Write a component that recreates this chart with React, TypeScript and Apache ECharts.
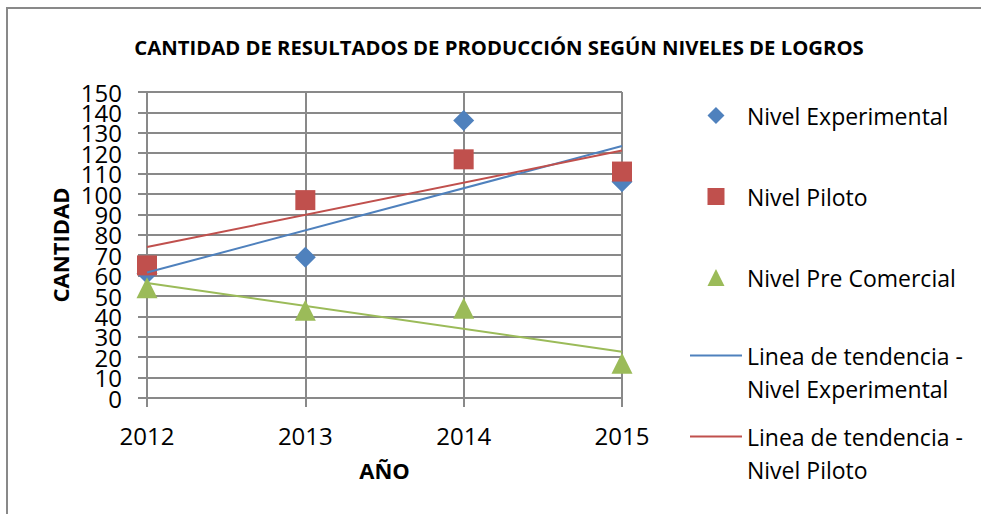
import React, { useEffect, useRef } from "react";
import * as echarts from "echarts";

const years = [2012, 2013, 2014, 2015];
const experimental = [61, 69, 136, 106];
const piloto = [65, 97, 117, 111];
const preComercial = [54, 43, 44, 17];
const trendYears = [2012, 2015];
const trendExperimental = [61.5, 123.5];
const trendPiloto = [74, 121.3];
const trendPreComercial = [56.4, 22.7];
const yLabelsEven = [0, 20, 40, 60, 80, 100, 120, 140];
const yLabelsOdd = [10, 30, 50, 70, 90, 110, 130, 150];

const NAME_EXP = "Nivel Experimental";
const NAME_PIL = "Nivel Piloto";
const NAME_PRE = "Nivel Pre Comercial";
const NAME_T_EXP = "Linea de tendencia -\nNivel Experimental";
const NAME_T_PIL = "Linea de tendencia -\nNivel Piloto";
const NAME_T_PRE = "Linea de tendencia -\nNivel Pre Comercial";

const BLUE = "#4F81BD";
const RED = "#C0504D";
const GREEN = "#9BBB59";
const GRID = "#898989";
const FONT = "Open Sans";
// invisible corner dots keep each icon's box at 52 x 17 (or 52 x 66)
const BOX17 = " M0,0h0.01v0.01h-0.01Z M52,17h0.01v0.01h-0.01Z";
const DIAMOND_ICON = "path://M26,0L34.5,8.5L26,17L17.5,8.5Z" + BOX17;
const RECT_ICON = "path://M17.5,0H34.5V17H17.5Z" + BOX17;
const TRIANGLE_ICON = "path://M26,0L34.5,17H17.5Z" + BOX17;
const LINE_ICON =
  "path://M0,15.5H52V17.5H0Z M0,0h0.01v0.01h-0.01Z M52,66h0.01v0.01h-0.01Z";

const pairs = (xs: number[], ys: number[]) => xs.map((x, i) => [x, ys[i]]);

export default function App() {
  const ref = useRef<HTMLDivElement>(null);
  useEffect(() => {
    if (!ref.current) return;
    const chart = echarts.init(ref.current, null, { renderer: "svg" });
    const legendText = { fontFamily: FONT, fontSize: 23, lineHeight: 33, color: "#000" };
    const yLabelStyle = { fontFamily: FONT, fontSize: 24, color: "#000", margin: 25 };
    const nameStyle = { fontFamily: FONT, fontSize: 22, fontWeight: "bold", color: "#000" };
    chart.setOption({
      animation: false,
      backgroundColor: "#fff",
      textStyle: { fontFamily: FONT },
      title: {
        text: "CANTIDAD DE RESULTADOS DE PRODUCCIÓN SEGÚN NIVELES DE LOGROS",
        left: 494,
        textAlign: "center",
        top: 32,
        textStyle: { fontFamily: FONT, fontSize: 20.3, fontWeight: "bold", color: "#000" },
      },
      graphic: [
        {
          type: "rect",
          z: -10,
          shape: { x: 7, y: 8, width: 1100, height: 700 },
          style: { fill: "none", stroke: GRID, lineWidth: 2 },
        },
      ],
      grid: { left: 147, top: 92, width: 475, height: 306, containLabel: false },
      xAxis: {
        type: "value",
        min: 2012,
        max: 2015,
        interval: 1,
        name: "AÑO",
        nameLocation: "middle",
        nameGap: 61,
        nameTextStyle: nameStyle,
        axisLine: { show: true, lineStyle: { color: GRID, width: 2 } },
        axisTick: { show: true, length: 9, lineStyle: { color: GRID, width: 2 } },
        splitLine: { show: true, lineStyle: { color: GRID, width: 2 } },
        axisLabel: {
          fontFamily: FONT,
          fontSize: 24,
          color: "#000",
          margin: 25,
          showMinLabel: true,
          showMaxLabel: true,
          formatter: (v: number) => String(v),
        },
      },
      yAxis: [
        {
          type: "value",
          position: "left",
          min: 0,
          max: 150,
          interval: 10,
          name: "CANTIDAD",
          nameLocation: "middle",
          nameRotate: 90,
          nameGap: 76,
          nameTextStyle: nameStyle,
          axisLine: { show: true, lineStyle: { color: GRID, width: 2 } },
          axisTick: { show: true, length: 9, lineStyle: { color: GRID, width: 2 } },
          splitLine: { show: true, lineStyle: { color: GRID, width: 2 } },
          axisLabel: { ...yLabelStyle, customValues: yLabelsEven },
        },
        {
          type: "value",
          position: "left",
          offset: 0,
          min: 0,
          max: 150,
          interval: 10,
          axisLine: { show: false },
          axisTick: { show: false },
          splitLine: { show: false },
          axisLabel: { ...yLabelStyle, customValues: yLabelsOdd },
        },
      ],
      legend: [
        {
          orient: "vertical",
          left: 690,
          top: 99,
          padding: 0,
          itemWidth: 52,
          itemHeight: 17,
          itemGap: 48,
          symbolKeepAspect: false,
          selectedMode: false,
          textStyle: legendText,
          data: [
            { name: NAME_EXP, icon: DIAMOND_ICON },
            { name: NAME_PIL, icon: RECT_ICON },
            { name: NAME_PRE, icon: TRIANGLE_ICON },
          ],
        },
        {
          orient: "vertical",
          left: 690,
          top: 339,
          padding: 0,
          itemWidth: 52,
          itemHeight: 66,
          itemGap: 15,
          symbolKeepAspect: false,
          selectedMode: false,
          textStyle: legendText,
          data: [
            { name: NAME_T_EXP, icon: LINE_ICON },
            { name: NAME_T_PIL, icon: LINE_ICON },
          ],
        },
      ],
      series: [
        {
          name: NAME_T_EXP,
          type: "line",
          data: pairs(trendYears, trendExperimental),
          symbol: "none",
          lineStyle: { color: BLUE, width: 2 },
          itemStyle: { color: BLUE },
          z: 3,
        },
        {
          name: NAME_T_PIL,
          type: "line",
          data: pairs(trendYears, trendPiloto),
          symbol: "none",
          lineStyle: { color: RED, width: 2 },
          itemStyle: { color: RED },
          z: 3,
        },
        {
          name: NAME_T_PRE,
          type: "line",
          data: pairs(trendYears, trendPreComercial),
          symbol: "none",
          lineStyle: { color: GREEN, width: 2 },
          itemStyle: { color: GREEN },
          z: 3,
        },
        {
          name: NAME_EXP,
          type: "scatter",
          symbol: "diamond",
          symbolSize: 21,
          data: pairs(years, experimental),
          itemStyle: { color: BLUE, opacity: 1 },
          z: 2,
        },
        {
          name: NAME_PIL,
          type: "scatter",
          symbol: "rect",
          symbolSize: 20,
          data: pairs(years, piloto),
          itemStyle: { color: RED, opacity: 1 },
          z: 2,
        },
        {
          name: NAME_PRE,
          type: "scatter",
          symbol: "triangle",
          symbolSize: 21,
          data: pairs(years, preComercial),
          itemStyle: { color: GREEN, opacity: 1 },
          z: 2,
        },
      ],
    });
    return () => chart.dispose();
  }, []);
  return (
    <div
      ref={ref}
      style={{ position: "fixed", left: 0, top: 0, width: 981, height: 514, background: "#fff" }}
    />
  );
}
